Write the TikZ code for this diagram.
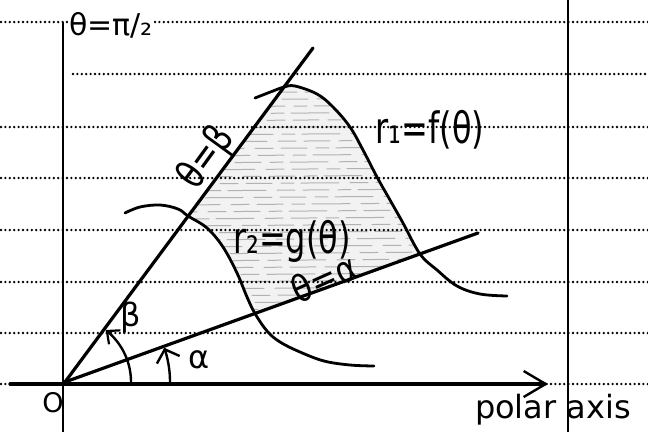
\documentclass[tikz,border=0pt]{standalone}
\usepackage{fontspec}
\newfontfamily\hand{DejaVu Sans}
\usetikzlibrary{arrows.meta}
\begin{document}
\begin{tikzpicture}[x=1pt,y=-1pt,
  dotrow/.style={line width=2.6pt, dash pattern=on 0pt off 4.4pt, line cap=round, black},
  ink/.style={line width=2.8pt, line cap=round, line join=round},
  rule/.style={line width=2pt, black},
  scrib/.style={gray!60, line width=1pt, line cap=round, dash pattern=on 26pt off 9pt on 13pt off 7pt on 38pt off 11pt on 18pt off 8pt},
  lbl/.style={font=\hand\fontsize{32}{32}\selectfont, inner sep=0pt, transform shape},
  barb/.style={-{Straight Barb[length=10pt,width=18pt,line width=2.2pt]}}
]
\useasboundingbox (0,0) rectangle (648,432);
\fill[white] (0,0) rectangle (648,432);

% named points
\coordinate (O) at (65,382);
\coordinate (Bend) at (313,48);
\coordinate (Aend) at (478,233);
\coordinate (Xstart) at (10,384);
\coordinate (Xend) at (548,384);

% shaded region
\fill[gray!10] (188,216) -- (284,87)
  -- plot[smooth, tension=0.6] coordinates {(284,87) (295,86) (317,94) (333,107) (350,127) (363,150) (377,177) (390,200) (403,223) (420,254)}
  -- (255,313.5)
  -- plot[smooth, tension=0.6] coordinates {(255,313.5) (247,297) (237,273) (223,247) (207,228) (188,216)} -- cycle;
\begin{scope}
  \clip (188,216) -- (284,87)
  -- plot[smooth, tension=0.6] coordinates {(284,87) (295,86) (317,94) (333,107) (350,127) (363,150) (377,177) (390,200) (403,223) (420,254)}
  -- (255,313.5)
  -- plot[smooth, tension=0.6] coordinates {(255,313.5) (247,297) (237,273) (223,247) (207,228) (188,216)} -- cycle;
  \foreach \k in {0,...,33} {
    \pgfmathsetmacro\ph{mod(\k*23,80)}
    \draw[scrib, dash phase=\ph pt] (175,{93+7*\k}) -- (440,{91+7*\k});
  }
\end{scope}

% ruled paper
\foreach \yy in {22,127,178,230,282,333,384} {
  \draw[dotrow] (1,\yy) -- (648,\yy);
}
\draw[dotrow] (73,74) -- (648,74);
\draw[rule, line width=2.6pt] (63,22) -- (63,432);
\draw[rule, line width=1.9pt] (568,0) -- (568,432);

% polar axis
\draw[ink, line width=3.2pt, -{Straight Barb[length=22pt,width=26pt,line width=2.4pt]}] (Xstart) -- (Xend);

% rays
\draw[ink, line width=3.2pt] (O) -- (Bend);
\draw[ink, line width=3.2pt] (O) -- (Aend);

% curves
\draw[ink] plot[smooth, tension=0.6] coordinates {(255,98) (273,91) (284,87) (295,86) (317,94) (333,107) (350,127) (363,150) (377,177) (390,200) (403,223) (420,254) (437,270) (457,286) (480,294) (507,296)};
\draw[ink] plot[smooth, tension=0.6] coordinates {(125,213) (140,207) (160,205) (178,209) (188,216) (207,228) (223,247) (237,273) (247,297) (255,313.5) (267,331) (280,342) (300,352) (324,361) (350,365) (374,366)};

% angle arcs
\draw[ink, line width=2.4pt, barb] plot[domain=-2:52, samples=30] ({65+66*cos(\x)},{382-66*sin(\x)});
\draw[ink, line width=2.4pt, -{Straight Barb[length=11pt,width=24pt,line width=2.4pt]}] plot[domain=-1:19, samples=30] ({65+105*cos(\x)},{382-105*sin(\x)});

% labels
\node[lbl, fill=white, inner sep=1pt, font=\hand\fontsize{30}{30}\selectfont] (pihalf) at (111,25) {θ=π/₂};
\node[lbl, rotate=54, yscale=1.25] (thb) at (207,158) {θ=β};
\node[lbl, yscale=1.35] (r1) at (430,130) {r₁=f(θ)};
\node[lbl, yscale=1.35] (r2) at (292,241) {r₂=g(θ)};
\node[lbl, rotate=24, yscale=1.15] (tha) at (324,278) {θ=α};
\node[lbl] (beta) at (131,318) {β};
\node[lbl] (alpha) at (199,360) {α};
\node[lbl, font=\hand\fontsize{27}{27}\selectfont] (Olbl) at (53,403) {O};
\node[lbl] (pa) at (553,410) {polar axis};
\end{tikzpicture}
\end{document}
